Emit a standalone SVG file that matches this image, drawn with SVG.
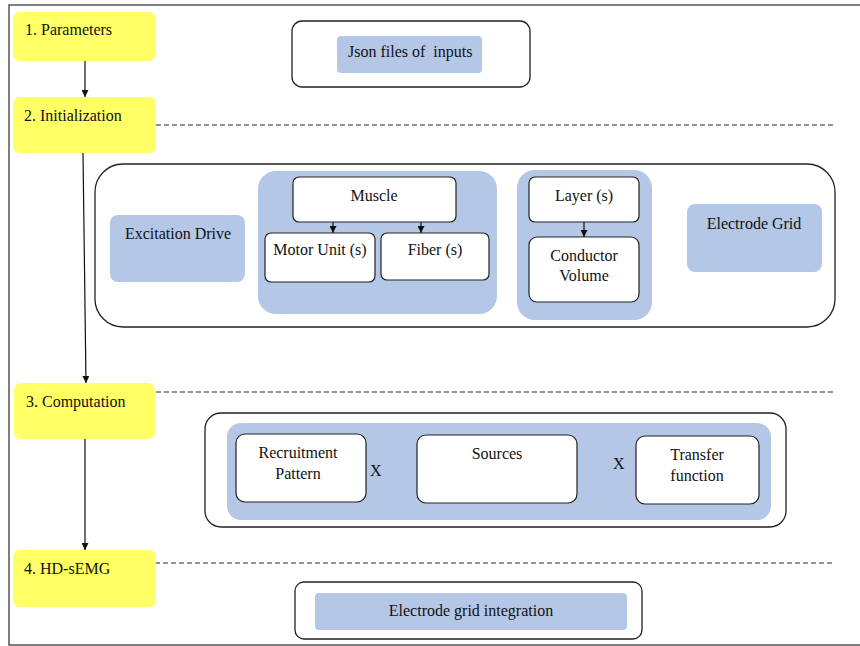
<svg xmlns="http://www.w3.org/2000/svg" width="860" height="646" viewBox="0 0 860 646">
<defs>
<style>
text{font-family:"Liberation Serif","Times New Roman",serif;font-size:16px;fill:#111}
.step{fill:#FFFF66}
.blue{fill:#B4C7E7}
.outer{fill:#fff;stroke:#222;stroke-width:1.3}
.wbox{fill:#fff;stroke:#222;stroke-width:1.2}
.dash{stroke:#222;stroke-width:1;stroke-dasharray:5 3;fill:none}
.conn{stroke:#111;stroke-width:1.2;fill:none}
.c{text-anchor:middle}
</style>
<marker id="ah" viewBox="0 0 10 10" refX="10" refY="5" markerWidth="7" markerHeight="7" orient="auto" markerUnits="userSpaceOnUse">
<path d="M0,0 L10,5 L0,10 z" fill="#111"/>
</marker>
</defs>
<rect width="860" height="646" fill="#fff"/>
<rect x="9" y="5" width="860" height="640" fill="none" stroke="#555" stroke-width="1.5"/>

<g id="dashes">
<line class="dash" x1="156" y1="125" x2="833" y2="125"/>
<line class="dash" x1="156" y1="392" x2="834" y2="392"/>
<line class="dash" x1="155" y1="563" x2="832" y2="563"/>
</g>

<g id="step1"><rect class="step" x="13" y="12" width="143" height="49" rx="7"/><text x="25" y="35">1. Parameters</text></g>
<g id="step2"><rect class="step" x="13" y="97" width="143" height="56" rx="7"/><text x="24" y="121">2. Initialization</text></g>
<g id="step3"><rect class="step" x="14" y="383" width="141" height="56" rx="7"/><text x="26" y="407">3. Computation</text></g>
<g id="step4"><rect class="step" x="13" y="550" width="143" height="57" rx="7"/><text x="24" y="574">4. HD-sEMG</text></g>

<g id="json">
<rect class="outer" x="292" y="21" width="238" height="66" rx="10"/>
<rect class="blue" x="337" y="36" width="145" height="37" rx="4"/>
<text x="348" y="57">Json files of&#160; inputs</text>
</g>

<g id="init">
<rect class="outer" x="95" y="164" width="740" height="163" rx="28"/>
</g>
<g id="excitation">
<rect class="blue" x="110" y="215" width="135" height="67" rx="8"/>
<text class="c" x="178" y="239">Excitation Drive</text>
</g>
<g id="muscle-group"><rect class="blue" x="258" y="171" width="239" height="143" rx="18"/></g>
<g id="muscle"><rect class="wbox" x="293" y="177" width="163" height="45" rx="6"/><text class="c" x="374" y="201">Muscle</text></g>
<g id="motorunit"><rect class="wbox" x="265" y="233" width="110" height="49" rx="6"/><text class="c" x="320" y="255">Motor Unit (s)</text></g>
<g id="fiber"><rect class="wbox" x="381" y="233" width="108" height="47" rx="6"/><text class="c" x="435" y="255">Fiber (s)</text></g>
<g id="layer-group"><rect class="blue" x="517" y="170" width="135" height="150" rx="18"/></g>
<g id="layer"><rect class="wbox" x="529" y="177" width="110" height="45" rx="6"/><text class="c" x="584" y="201">Layer (s)</text></g>
<g id="conductor"><rect class="wbox" x="529" y="237" width="110" height="65" rx="8"/><text class="c" x="584" y="261">Conductor</text><text class="c" x="584" y="281">Volume</text></g>
<g id="electrode"><rect class="blue" x="687" y="204" width="135" height="68" rx="8"/><text class="c" x="754" y="229">Electrode Grid</text></g>

<g id="comp">
<rect class="outer" x="205" y="413" width="581" height="114" rx="16"/>
<rect class="blue" x="227" y="423" width="544" height="97" rx="14"/>
</g>
<g id="recruit"><rect class="wbox" x="236" y="434" width="130" height="68" rx="9"/><text class="c" x="298" y="458">Recruitment</text><text class="c" x="298" y="479">Pattern</text></g>
<g id="x1"><text x="370" y="476">X</text></g>
<g id="sources"><rect class="wbox" x="417" y="435" width="160" height="68" rx="9"/><text class="c" x="497" y="459">Sources</text></g>
<g id="x2"><text x="613" y="469">X</text></g>
<g id="transfer"><rect class="wbox" x="636" y="436" width="123" height="68" rx="9"/><text class="c" x="697" y="460">Transfer</text><text class="c" x="697" y="481">function</text></g>

<g id="hdsemg">
<rect class="outer" x="295" y="582" width="347" height="57" rx="9"/>
<rect class="blue" x="315" y="593" width="312" height="37" rx="4"/>
<text class="c" x="471" y="616">Electrode grid integration</text>
</g>

<g id="connectors">
<line class="conn" x1="85" y1="61" x2="85" y2="97" marker-end="url(#ah)"/>
<line class="conn" x1="83" y1="153" x2="86" y2="383" marker-end="url(#ah)"/>
<line class="conn" x1="85" y1="439" x2="85" y2="550" marker-end="url(#ah)"/>
<line class="conn" x1="333" y1="222" x2="333" y2="233" marker-end="url(#ah)"/>
<line class="conn" x1="421" y1="222" x2="421" y2="233" marker-end="url(#ah)"/>
<line class="conn" x1="584" y1="222" x2="584" y2="237" marker-end="url(#ah)"/>
</g>
</svg>
